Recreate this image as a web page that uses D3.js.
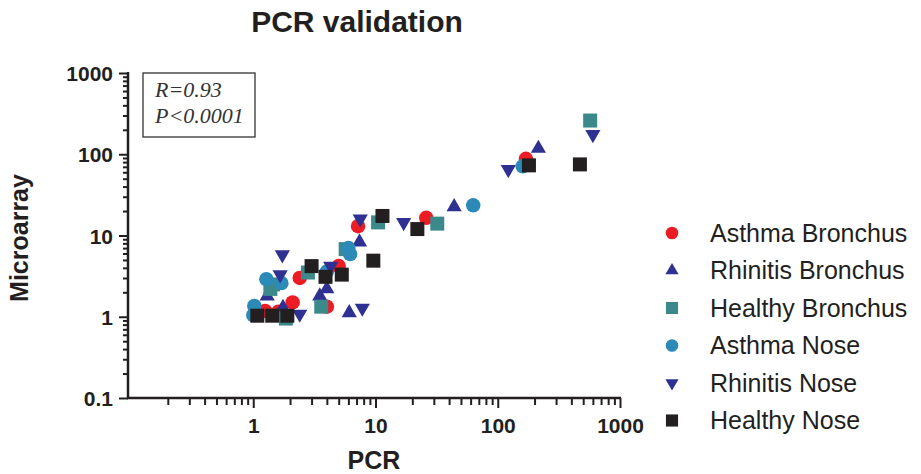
<!DOCTYPE html>
<html>
<head>
<meta charset="utf-8">
<title>PCR validation</title>
<script src="https://d3js.org/d3.v7.min.js"></script>
<style>
body { margin: 0; background: #fff; }
svg { display: block; font-family: "Liberation Sans", Arial, sans-serif; }
</style>
</head>
<body>
<div id="chart"></div>
<script>
// series values: [PCR, Microarray]
var asthmaBronchus = [[170,88],[26,16.5],[7.2,13],[5,4.2],[2.4,3.0],[2.1,1.5],[4.0,1.33],[1.25,1.18],[1.6,1.15]];
var rhinitisBronchus = [[215,118],[44,22.5],[7.4,8.3],[4.0,2.2],[3.5,1.8],[6.1,1.12],[1.3,1.8],[1.75,1.3]];
var healthyBronchus = [[570,260],[32,14],[10.5,14.5],[5.7,6.8],[2.8,3.5],[3.6,1.33],[1.38,2.2],[1.45,2.5],[1.85,0.95]];
var asthmaNose = [[160,71],[63,23.5],[6.0,7.0],[6.2,5.9],[4.0,3.6],[1.28,2.9],[1.7,2.6],[1.02,1.36],[1.0,1.05]];
var rhinitisNose = [[600,175],[122,65],[17,14.5],[7.5,16],[4.3,4.2],[1.73,5.8],[1.66,3.3],[2.4,1.08],[7.8,1.28]];
var healthyNose = [[470,75],[180,73],[22,12],[11.4,17.4],[9.6,4.9],[5.3,3.3],[3.9,3.1],[3.0,4.2],[1.08,1.03],[1.43,1.03],[1.9,1.03]];

var seriesNames = ["Asthma Bronchus", "Rhinitis Bronchus", "Healthy Bronchus", "Asthma Nose", "Rhinitis Nose", "Healthy Nose"];
var xTickLabels = [1, 10, 100, 1000];
var yTickLabels = [0.1, 1, 10, 100, 1000];

var series = [
  {name: seriesNames[0], data: asthmaBronchus, shape: "circle", color: "#ed1c24"},
  {name: seriesNames[1], data: rhinitisBronchus, shape: "up", color: "#2e3192"},
  {name: seriesNames[2], data: healthyBronchus, shape: "square", color: "#3b898b"},
  {name: seriesNames[3], data: asthmaNose, shape: "circle", color: "#2b8ab8"},
  {name: seriesNames[4], data: rhinitisNose, shape: "down", color: "#2e3192"},
  {name: seriesNames[5], data: healthyNose, shape: "square", color: "#231f20"}
];

var ink = "#231f20";
var width = 921, height = 474;

var svg = d3.select("#chart").append("svg")
  .attr("width", width)
  .attr("height", height);

svg.append("rect").attr("width", width).attr("height", height).attr("fill", "#fff");

var x = d3.scaleLog().domain([0.1, 1000]).range([131, 620]);
var y = d3.scaleLog().domain([0.1, 1000]).range([398, 73]);

function isMajor(v) {
  var l = Math.log10(v);
  return Math.abs(l - Math.round(l)) < 1e-9;
}

// X axis
var xAxis = svg.append("g")
  .attr("transform", "translate(0,398)")
  .call(d3.axisBottom(x)
    .tickValues(x.ticks().filter(function(v) { return v > 0.1; }))
    .tickSize(7)
    .tickFormat(function(v) { return xTickLabels.indexOf(v) >= 0 ? d3.format("~g")(v) : ""; }));
xAxis.select(".domain").remove();
xAxis.selectAll(".tick line")
  .attr("stroke", ink).attr("stroke-width", 2)
  .attr("y2", function(d) { return isMajor(d) ? 10 : 7; });
xAxis.selectAll(".tick text")
  .attr("y", 35).attr("dy", 0)
  .attr("fill", ink)
  .style("font-size", "21px").style("font-weight", "bold")
  .style("font-family", "'Liberation Sans', Arial, sans-serif");
svg.append("line")
  .attr("x1", 127).attr("x2", x(1000) + 1)
  .attr("y1", 398).attr("y2", 398)
  .attr("stroke", ink).attr("stroke-width", 2.5);

// Y axis
var yAxis = svg.append("g")
  .attr("transform", "translate(128,0)")
  .call(d3.axisLeft(y)
    .tickValues(y.ticks())
    .tickSize(5)
    .tickFormat(function(v) { return yTickLabels.indexOf(v) >= 0 ? d3.format("~g")(v) : ""; }));
yAxis.select(".domain").remove();
yAxis.selectAll(".tick line")
  .attr("stroke", ink).attr("stroke-width", 2)
  .attr("x2", function(d) { return isMajor(d) ? -9 : -5; });
yAxis.selectAll(".tick text")
  .attr("x", -15).attr("dy", "0.36em")
  .attr("fill", ink)
  .style("font-size", "21px").style("font-weight", "bold")
  .style("font-family", "'Liberation Sans', Arial, sans-serif");
svg.append("line")
  .attr("x1", 128).attr("x2", 128)
  .attr("y1", y(1000) - 1).attr("y2", 399)
  .attr("stroke", ink).attr("stroke-width", 2.5);

// symbols
function symbolPath(shape, scale) {
  var s = scale || 1;
  if (shape === "circle") return d3.symbol().type(d3.symbolCircle).size(165 * s)();
  if (shape === "square") return d3.symbol().type(d3.symbolSquare).size(196 * s)();
  return d3.symbol().type(d3.symbolTriangle).size(100 * s)();
}

series.forEach(function(s) {
  svg.append("g").selectAll("path")
    .data(s.data)
    .join("path")
      .attr("d", symbolPath(s.shape))
      .attr("transform", function(d) {
        return "translate(" + x(d[0]) + "," + y(d[1]) + ")" + (s.shape === "down" ? " rotate(180)" : "");
      })
      .attr("fill", s.color);
});

// annotation box
svg.append("rect")
  .attr("x", 143).attr("y", 73).attr("width", 112).attr("height", 64)
  .attr("fill", "none").attr("stroke", "#333").attr("stroke-width", 1.3);
var note = svg.append("g")
  .style("font-family", "'Liberation Serif', 'Times New Roman', serif")
  .style("font-style", "italic").style("font-size", "22px").attr("fill", "#333");
note.append("text").attr("x", 155).attr("y", 97).text("R=0.93");
note.append("text").attr("x", 155).attr("y", 123).text("P<0.0001");

// titles
svg.append("text")
  .attr("x", 357).attr("y", 32).attr("text-anchor", "middle")
  .style("font-size", "30px").style("font-weight", "bold").attr("fill", ink)
  .text("PCR validation");
svg.append("text")
  .attr("x", 374).attr("y", 469).attr("text-anchor", "middle")
  .style("font-size", "25px").style("font-weight", "bold").attr("fill", ink)
  .text("PCR");
svg.append("text")
  .attr("transform", "translate(28,238) rotate(-90)")
  .attr("text-anchor", "middle")
  .style("font-size", "25px").style("font-weight", "bold").attr("fill", ink)
  .text("Microarray");

// legend
var legend = svg.append("g");
var lg = legend.selectAll("g")
  .data(series)
  .join("g")
    .attr("transform", function(d, i) { return "translate(672," + (233 + i * 37.5) + ")"; });
lg.append("path")
  .attr("d", function(d) { return symbolPath(d.shape, 0.75); })
  .attr("transform", function(d) { return d.shape === "down" ? "rotate(180)" : null; })
  .attr("fill", function(d) { return d.color; });
lg.append("text")
  .attr("x", 38).attr("y", 8.5)
  .style("font-size", "25px").attr("fill", ink)
  .text(function(d) { return d.name; });
</script>
</body>
</html>
